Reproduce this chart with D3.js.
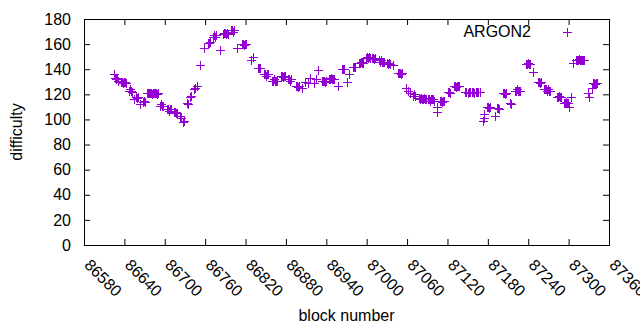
<!DOCTYPE html>
<html>
<head>
<meta charset="utf-8">
<script src="https://cdn.jsdelivr.net/npm/d3@7"></script>
<style>
  body { margin: 0; background: #fff; }
  svg text { font-family: "Liberation Sans", Arial, sans-serif; font-size: 16px; fill: #000; }
</style>
</head>
<body>
<svg id="chart" width="640" height="330"></svg>
<script>
// block number / difficulty pairs
var argon2 = [
  [86625,136],[86626,133],[86628,132],[86629,133],[86631,131],
  [86635,130],[86636,130],[86638,129],[86639,130],[86641,130],[86642,129],
  [86647,123],[86648,124],[86650,123],[86651,122],
  [86654,116],[86657,118],[86659,117],[86660,118],
  [86663,112],[86668,114],[86669,115],[86671,114],
  [86674,121],[86675,121],[86677,121],[86678,121],[86680,121],[86681,120],[86683,121],[86684,121],
  [86685,121],[86687,121],[86688,120],[86690,121],
  [86693,111],[86694,112],[86696,111],[86697,111],
  [86703,108],[86705,108],[86706,107],[86708,108],[86709,108],
  [86714,106],[86715,106],[86717,105],[86718,105],
  [86723,103],[86724,101],
  [86727,98],[86729,99],
  [86733,113],[86735,112],
  [86737,118],[86739,119],
  [86743,124],[86745,125],
  [86748,127],
  [86752,143],
  [86758,157],
  [86764,161],[86766,161],[86767,162],
  [86772,166],[86773,167],[86775,166],[86776,167],
  [86782,155],
  [86786,168],[86788,169],[86789,169],[86791,168],[86792,169],[86794,168],
  [86798,171],[86800,171],[86801,170],[86803,171],
  [86807,157],
  [86815,160],[86816,160],[86818,159],[86819,160],[86821,160],
  [86828,147],[86831,150],
  [86839,141],[86840,141],[86842,141],
  [86847,136],[86849,136],[86850,135],[86852,136],[86853,136],
  [86859,131],[86861,131],[86862,132],[86864,131],[86865,131],[86867,131],
  [86873,135],[86874,135],[86876,134],[86877,135],[86879,135],
  [86883,132],[86885,132],[86886,131],[86888,132],
  [86895,127],[86896,127],[86898,126],[86899,127],
  [86904,125],
  [86908,130],[86913,129],[86916,133],
  [86922,129],[86925,132],[86928,139],
  [86934,131],[86935,131],[86937,131],[86938,130],[86940,131],
  [86944,132],[86945,132],[86947,133],[86948,132],[86950,132],[86951,132],
  [86957,127],
  [86963,140],[86965,140],[86966,140],
  [86971,130],[86974,136],
  [86980,142],[86981,142],[86983,142],
  [86989,145],[86990,145],[86992,146],[86993,145],[86994,145],
  [86999,149],[87000,150],[87002,149],[87003,150],[87005,149],
  [87008,149],[87009,149],[87011,148],[87012,149],
  [87018,147],[87020,146],[87021,147],[87023,146],[87024,146],[87026,146],
  [87030,145],[87032,144],[87033,145],[87035,144],
  [87039,143],
  [87047,137],[87048,137],[87050,137],[87051,136],[87052,137],
  [87058,125],[87061,123],[87064,121],
  [87069,119],[87070,120],[87072,119],
  [87078,117],[87079,116],[87081,117],[87082,116],[87084,116],[87085,117],[87087,116],[87088,116],
  [87091,116],[87093,116],[87094,115],[87096,116],[87097,116],[87099,116],[87100,115],
  [87104,110],[87105,106],
  [87109,115],[87110,115],[87112,114],[87113,115],[87115,115],
  [87121,122],[87122,122],[87124,121],
  [87130,127],[87131,127],[87133,126],[87134,127],[87136,127],[87137,127],
  [87146,122],[87148,122],[87150,121],[87152,122],[87154,122],[87156,122],
  [87158,122],[87160,121],[87162,122],[87164,122],[87166,122],[87168,122],
  [87173,99],[87174,101],[87175,104],
  [87179,110],[87180,110],[87182,109],[87183,110],
  [87191,103],
  [87194,109],[87195,109],[87197,108],
  [87203,121],[87204,121],[87206,120],[87207,121],
  [87213,113],[87214,112],
  [87220,123],[87222,123],[87223,124],[87225,123],[87226,123],[87228,123],
  [87237,144],[87238,144],[87240,145],[87241,144],[87243,144],
  [87247,138],
  [87254,130],[87256,130],[87257,129],[87259,130],
  [87263,124],[87265,124],[87266,124],[87268,123],[87269,124],[87271,123],[87272,123],
  [87283,118],[87284,118],[87286,119],[87287,118],[87289,118],
  [87293,113],[87295,113],[87296,114],[87298,113],[87299,113],
  [87301,110],[87304,118],[87306,145],
  [87311,147],[87312,147],[87314,147],[87315,148],[87317,147],[87318,147],[87320,147],[87321,147],[87323,147],
  [87329,121],[87330,118],[87334,125],
  [87336,129],[87338,129],[87339,128],[87341,129],[87342,129]
];

var xTicks = [86580, 86640, 86700, 86760, 86820, 86880, 86940, 87000, 87060, 87120, 87180, 87240, 87300, 87360];
var yTicks = [0, 20, 40, 60, 80, 100, 120, 140, 160, 180];
var seriesName = 'ARGON2';

render(argon2);

function render(data){
  var margin = {left: 84, top: 19, right: 31, bottom: 85};
  var W = 640 - margin.left - margin.right;
  var H = 330 - margin.top - margin.bottom;
  var color = '#9400d3';
  var tick = 6;

  var svg = d3.select('#chart');
  var g = svg.append('g')
      .attr('transform', 'translate(' + margin.left + ',' + margin.top + ')');

  var x = d3.scaleLinear().domain([86580, 87360]).range([0, W]);
  var y = d3.scaleLinear().domain([0, 180]).range([H, 0]);

  // left axis with labels, ticks pointing inward
  g.append('g')
      .attr('class', 'y axis')
      .call(d3.axisLeft(y).tickValues(yTicks).tickSize(-tick).tickPadding(13))
      .call(function(a){ a.select('.domain').remove(); });
  // mirrored right ticks
  g.append('g')
      .attr('transform', 'translate(' + W + ',0)')
      .call(d3.axisRight(y).tickValues(yTicks).tickSize(-tick).tickFormat(''))
      .call(function(a){ a.select('.domain').remove(); });
  // mirrored top ticks
  g.append('g')
      .call(d3.axisTop(x).tickValues(xTicks).tickSize(-tick).tickFormat(''))
      .call(function(a){ a.select('.domain').remove(); });

  var xAxis = g.append('g')
      .attr('transform', 'translate(0,' + H + ')')
      .call(d3.axisBottom(x).tickValues(xTicks).tickSize(-tick).tickFormat(d3.format('d')))
      .call(function(a){ a.select('.domain').remove(); });
  xAxis.selectAll('text')
      .attr('x', 0)
      .attr('y', 0)
      .attr('dy', null)
      .attr('text-anchor', 'start')
      .attr('transform', 'translate(-1,21) rotate(45)');

  svg.selectAll('.tick line').attr('stroke', '#000');
  svg.selectAll('.tick text').style('font-size', '16px').style('font-family', '"Liberation Sans", Arial, sans-serif');

  // border
  g.append('rect')
      .attr('x', 0.5)
      .attr('y', 0.5)
      .attr('width', W)
      .attr('height', H)
      .attr('fill', 'none')
      .attr('stroke', '#000');

  // points as gnuplot style '+'
  var s = 4.5;
  var pts = g.append('g')
      .attr('class', 'points')
      .selectAll('path')
      .data(data)
      .enter()
      .append('path')
      .attr('d', function(d) {
        var px = Math.round(x(d[0])) + 0.5;
        var py = Math.round(y(d[1])) + 0.5;
        return 'M' + (px - s) + ',' + py + 'H' + (px + s) + 'M' + px + ',' + (py - s) + 'V' + (py + s);
      })
      .attr('stroke', color)
      .attr('stroke-width', 1)
      .attr('fill', 'none');

  // legend
  svg.append('text')
      .attr('x', 531)
      .attr('y', 37)
      .attr('text-anchor', 'end')
      .text(seriesName);
  svg.append('path')
      .attr('d', 'M' + (567.5 - s) + ',32.5H' + (567.5 + s) + 'M567.5,' + (32.5 - s) + 'V' + (32.5 + s))
      .attr('stroke', color)
      .attr('fill', 'none');

  // axis titles
  svg.append('text')
      .attr('x', margin.left + W / 2)
      .attr('y', 321)
      .attr('text-anchor', 'middle')
      .text('block number');
  svg.append('text')
      .attr('transform', 'translate(22,' + (margin.top + H / 2) + ') rotate(-90)')
      .attr('text-anchor', 'middle')
      .text('difficulty');
}
</script>
</body>
</html>
